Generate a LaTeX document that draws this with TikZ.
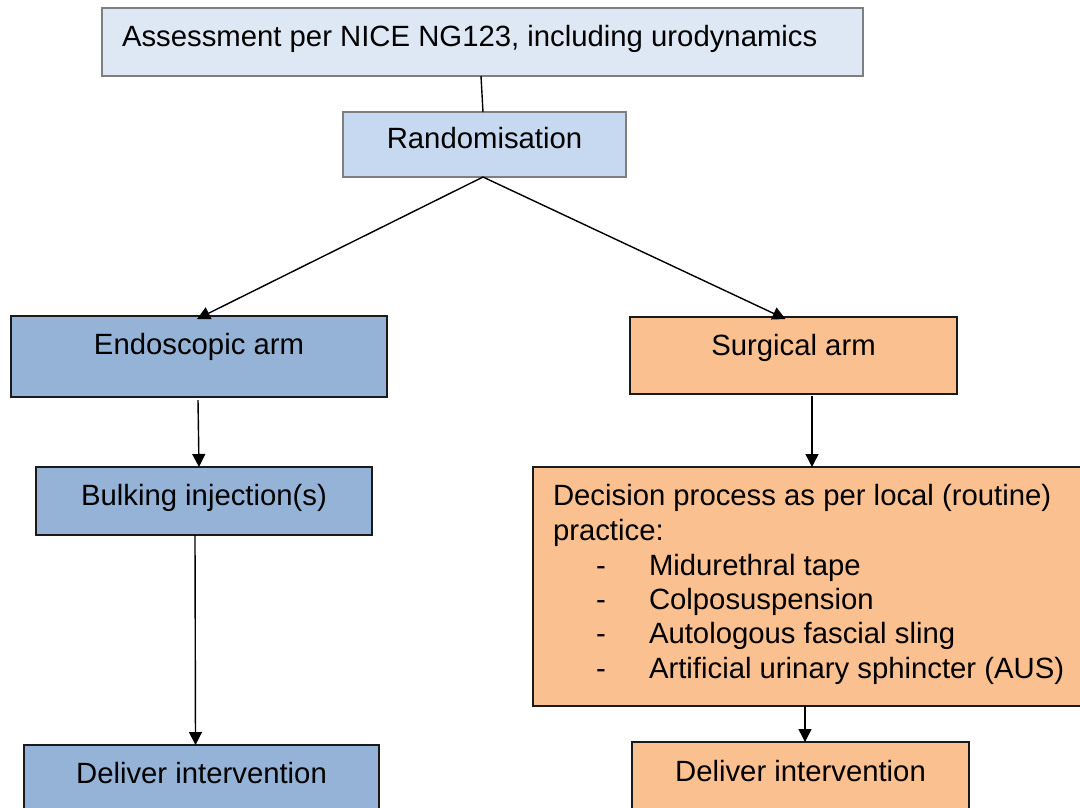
\documentclass[tikz,border=0pt]{standalone}
\usepackage{fontspec}
\setmainfont{Liberation Sans}
\usetikzlibrary{arrows.meta,calc}
\definecolor{assessfill}{HTML}{DEE8F4}
\definecolor{randfill}{HTML}{C6D9F1}
\definecolor{armblue}{HTML}{95B3D7}
\definecolor{armorange}{HTML}{FAC090}
\definecolor{graybdr}{HTML}{7F7F7F}
\definecolor{darkbdr}{HTML}{1A1A1A}
\begin{document}
\begin{tikzpicture}[x=1pt,y=-1pt,
  box/.style={draw=darkbdr, line width=1.6pt, inner sep=0pt, outer sep=0pt},
  lightbox/.style={box, draw=graybdr, line width=1.4pt},
  txt/.style={inner sep=0pt, outer sep=0pt, font=\fontsize{29.3}{34.5}\selectfont},
  conn/.style={line width=1.4pt, black},
  arr/.style={conn, -{Triangle[length=13pt,width=13pt]}}
]
\useasboundingbox (0,0) rectangle (1080,807);
\fill[white] (0,0) rectangle (1080,807);
\clip (0,0) rectangle (1080,807);

% boxes
\node[lightbox, fill=assessfill, minimum width=761pt, minimum height=68pt] (assess) at (482.5,42) {};
\node[lightbox, fill=randfill, minimum width=283pt, minimum height=65pt] (rand) at (484.5,144.5) {};
\node[box, fill=armblue, minimum width=376pt, minimum height=81pt] (endo) at (199,356.5) {};
\node[box, fill=armorange, minimum width=327pt, minimum height=77pt] (surg) at (793.5,355.5) {};
\node[box, fill=armblue, minimum width=336pt, minimum height=68pt] (bulk) at (204,501) {};
\node[box, fill=armorange, minimum width=560pt, minimum height=239pt] (dec) at (813,586.5) {};
\node[box, fill=armblue, minimum width=355pt, minimum height=90pt] (delL) at (201.5,790) {};
\node[box, fill=armorange, minimum width=337pt, minimum height=90pt] (delR) at (800.5,787) {};

% texts
\node[txt, anchor=base west] (assessT) at (122,46) {Assessment per NICE NG123, including urodynamics};
\node[txt, anchor=base] (randT) at (484.5,148) {Randomisation};
\node[txt, anchor=base] (endoT) at (199,354) {Endoscopic arm};
\node[txt, anchor=base] (surgT) at (793.5,355) {Surgical arm};
\node[txt, anchor=base] (bulkT) at (204,505) {Bulking injection(s)};
\node[txt, anchor=base west] (decA) at (553,505) {Decision process as per local (routine)};
\node[txt, anchor=base west] (decB) at (553,540) {practice:};
\node[txt, anchor=base west] (dashA) at (596,575) {-};
\node[txt, anchor=base west] (itemA) at (649,575) {Midurethral tape};
\node[txt, anchor=base west] (dashB) at (596,609) {-};
\node[txt, anchor=base west] (itemB) at (649,609) {Colposuspension};
\node[txt, anchor=base west] (dashC) at (596,643) {-};
\node[txt, anchor=base west] (itemC) at (649,643) {Autologous fascial sling};
\node[txt, anchor=base west] (dashD) at (596,678) {-};
\node[txt, anchor=base west] (itemD) at (649,678) {Artificial urinary sphincter (AUS)};
\node[txt, anchor=base] (delLT) at (201.5,783) {Deliver intervention};
\node[txt, anchor=base] (delRT) at (800.5,781) {Deliver intervention};

% connectors
\draw[conn] ([xshift=-1.5pt]assess.south) -- ([xshift=-1.5pt]rand.north);
\draw[arr] ([xshift=-1.5pt]rand.south) -- ([xshift=-2pt,yshift=-3pt]endo.north);
\draw[arr] ([xshift=-1.5pt]rand.south) -- ([xshift=-8pt,yshift=-2pt]surg.north);
\draw[arr] ([xshift=-1pt,yshift=-3pt]endo.south) -- (bulk.north -| endo.south);
\draw[arr] ([xshift=-9pt]bulk.south) -- ([xshift=-6pt]delL.north);
\draw[arr] ([xshift=18.5pt,yshift=-2pt]surg.south) -- ([xshift=-1pt]dec.north);
\draw[arr] ([xshift=-8pt]dec.south) -- ([xshift=4.5pt]delR.north);
\end{tikzpicture}
\end{document}
